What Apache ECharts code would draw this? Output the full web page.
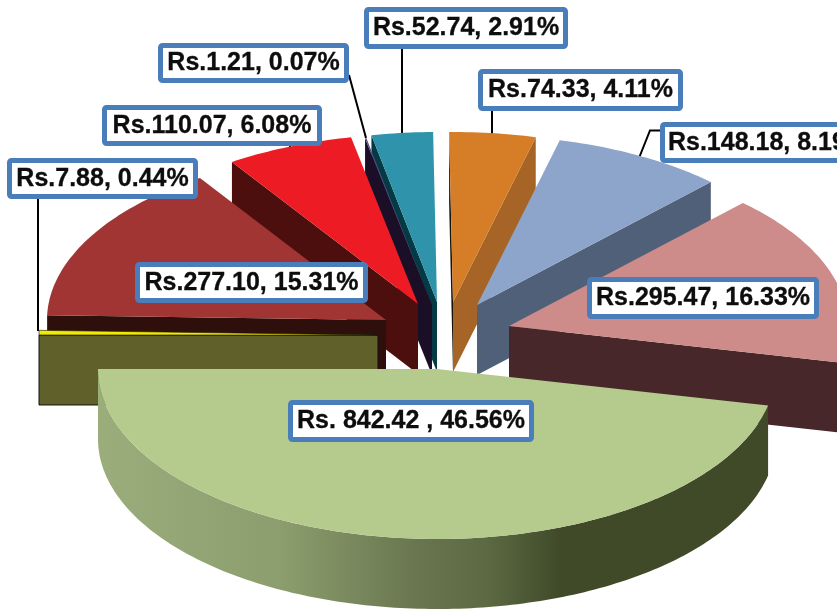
<!DOCTYPE html>
<html><head><meta charset="utf-8">
<style>html,body{margin:0;padding:0;background:#fff}#c{width:837px;height:609px}</style>
<script src="https://cdn.jsdelivr.net/npm/echarts@6/dist/echarts.min.js"></script>
</head><body><div id="c"></div>
<script>
// data, in pie order (clockwise)
const names = ['green','yellow','brown','red','navy','teal','orange','blue','pink'];
const values = [842.42, 7.88, 277.10, 110.07, 1.21, 52.74, 74.33, 148.18, 295.47];
const percents = ['46.56','0.44','15.31','6.08','0.07','2.91','4.11','8.19','16.33'];
const labelTexts = ['Rs. 842.42 , 46.56%','Rs.7.88, 0.44%','Rs.277.10, 15.31%','Rs.110.07, 6.08%','Rs.1.21, 0.07%','Rs.52.74, 2.91%','Rs.74.33, 4.11%','Rs.148.18, 8.19%','Rs.295.47, 16.33%'];
// styles and layout
const topColors = ['#b5ca8d','#f2ea00','#a03533','#ed1c24','#5d4785','#2e93ab','#d67d28','#8da5cb','#cd8b89'];
const startFace = ['#404a29','#5f602a','#2f0f0c','#4d0f0d','#1a0f26','#033a44','#1a1208','#506078','#472729'];
const endFace   = ['#404a29','#5f602a','#2f0f0c','#4d0f0d','#1a0f26','#033a44','#a66527','#506078','#472729'];
const apexX = [437,378,386,418,432,437,453,477,509];
const apexY = [369,335,320,304,305,302,302,305,326];
const drawOrder = [6,7,8,5,4,3,2,1,0];
const labelBoxes = [[288,400,246,42],[7,158,191,41],[135,262,233,41],[102,105,220,41],[158,43,191,40],[364,7,204,42],[478,69,205,42],[660,122,216,41],[587,277,232,42]];
const leaders = [[[38,199],[38,331]],[[290,146],[290,150]],[[349,75],[366,138]],[[402,49],[402,134]],[[492,111],[492,136]],[[660,130.5],[650,130.5],[639,158]]];
const RX = 339, RY = 170, DEPTH = 70, START_DEG = 12.4;

const total = values.reduce((a,b)=>a+b,0);
const cum = []; values.reduce((a,v,i)=>(cum[i]=a,a+v),0);
const toDeg = v => echarts.number.linearMap(v,[0,total],[START_DEG,START_DEG+360]);
const rad = d => d*Math.PI/180;

function arc(cx,cy,a,b){
  const pts=[]; const n=Math.max(1,Math.ceil(Math.abs(b-a)));
  for(let k=0;k<=n;k++){const t=rad(a+(b-a)*k/n);pts.push([cx+RX*Math.cos(t),cy+RY*Math.sin(t)]);}
  return pts;
}
function sliceItem(params){
  const i = drawOrder[params.dataIndex];
  const a = toDeg(cum[i]), b = toDeg(cum[i]+values[i]);
  const cx = apexX[i], cy = apexY[i];
  const children = [];
  const face = (deg,color,extra)=>{
    const t=rad(deg), ex=cx+RX*Math.cos(t), ey=cy+RY*Math.sin(t);
    children.push({type:'polygon',shape:{points:[[cx,cy],[ex,ey],[ex,ey+DEPTH],[cx,cy+DEPTH]]},
      style:Object.assign({fill:color},extra||{})});
  };
  const yellowOutline = names[i]==='yellow' ? {stroke:'#111',lineWidth:1} : null;
  if(Math.cos(rad(a))<0) face(a,startFace[i],yellowOutline);
  if(Math.cos(rad(b))>0) face(b,endFace[i]);
  // visible part of the outer wall: front half of the ellipse
  const ranges=[[Math.max(a,0),Math.min(b,180)],[Math.max(a,360),Math.min(b,540)]];
  ranges.forEach(r=>{
    if(r[1]<=r[0]) return;
    const top=arc(cx,cy,r[0],r[1]);
    const bot=top.map(p=>[p[0],p[1]+DEPTH]).reverse();
    const fill = names[i]==='green'
      ? new echarts.graphic.LinearGradient(98,0,768,0,[
          {offset:0,color:'#9aad7b'},{offset:0.27,color:'#8c9e6e'},{offset:0.48,color:'#68754e'},
          {offset:0.58,color:'#5c6a43'},{offset:0.69,color:'#404a29'},{offset:1,color:'#404a29'}],true)
      : endFace[i];
    children.push({type:'polygon',shape:{points:top.concat(bot)},style:{fill}});
  });
  children.push({type:'polygon',shape:{points:[[cx,cy]].concat(arc(cx,cy,a,b))},
    style:Object.assign({fill:topColors[i]},yellowOutline?{stroke:'#111',lineWidth:0.6}:{})});
  return {type:'group',children};
}
function leaderItem(params){
  return {type:'polyline',shape:{points:leaders[params.dataIndex]},style:{stroke:'#000',lineWidth:2,fill:null}};
}
function labelItem(params){
  const i=params.dataIndex, b=labelBoxes[i];
  return {type:'group',children:[
    {type:'rect',shape:{x:b[0]+2.5,y:b[1]+2.5,width:b[2]-5,height:b[3]-5,r:2},style:{fill:'#fff',stroke:'#4a7ebb',lineWidth:5}},
    {type:'text',style:{x:b[0]+b[2]/2,y:b[1]+b[3]/2+0.5,text:labelTexts[i],align:'center',verticalAlign:'middle',
      fill:'#0d0d0d',stroke:'#0d0d0d',lineWidth:0.3,font:'bold 25px "Liberation Sans", Arial, sans-serif'}}
  ]};
}
const chart = echarts.init(document.getElementById('c'),null,{renderer:'canvas'});
chart.setOption({
  animation:false,
  backgroundColor:'#fff',
  series:[
    {type:'custom',coordinateSystem:'none',silent:true,z:2,clip:false,renderItem:leaderItem,data:leaders.map((l,i)=>[i])},
    {type:'custom',coordinateSystem:'none',silent:true,z:3,clip:false,renderItem:sliceItem,
      data:drawOrder.map(i=>({name:names[i],value:[i,values[i],percents[i]]}))},
    {type:'custom',coordinateSystem:'none',silent:true,z:4,clip:false,renderItem:labelItem,data:values.map((v,i)=>[i,v])}
  ]
});
</script></body></html>
